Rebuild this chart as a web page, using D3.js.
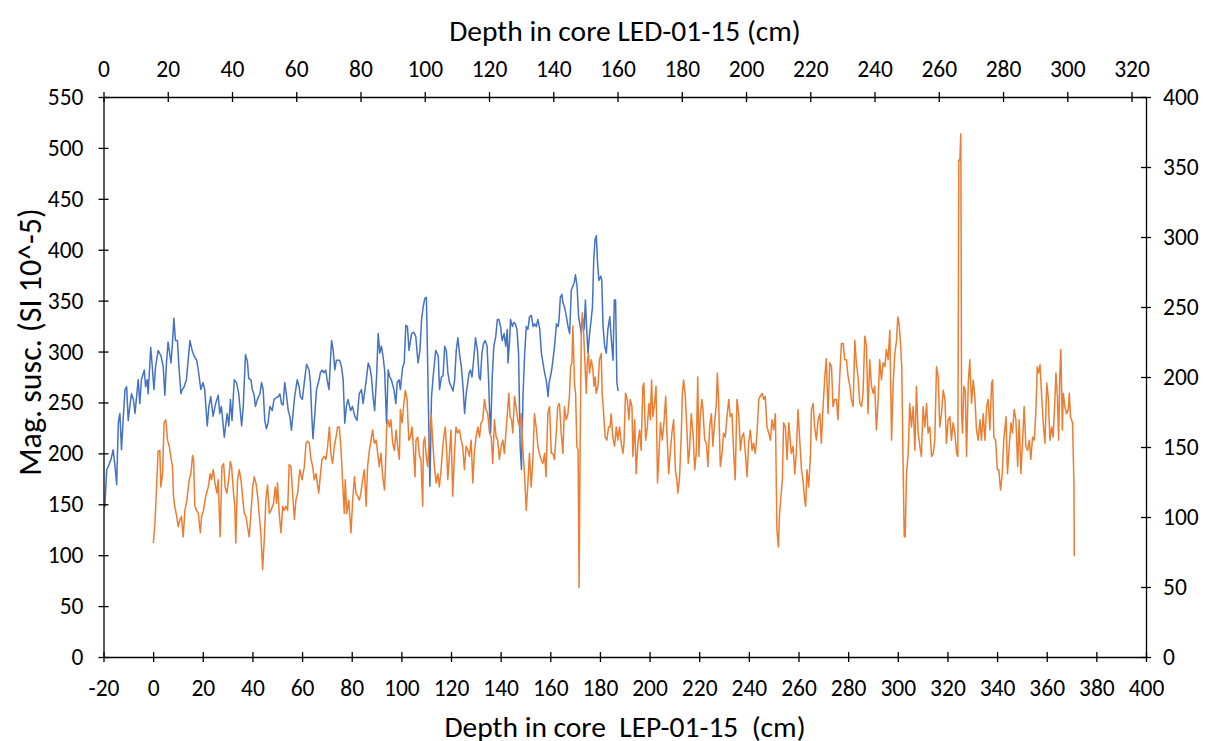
<!DOCTYPE html>
<html>
<head>
<meta charset="utf-8">
<script src="https://cdnjs.cloudflare.com/ajax/libs/d3/7.8.5/d3.min.js"></script>
<style>
  body { margin: 0; background: #fff; }
  text { font-family: Carlito, Calibri, Lato, sans-serif; fill: #000; }
</style>
</head>
<body>
<div id="chart"></div>
<script>
// core LED-01-15: [depth cm (top axis), mag. susc. (right axis)]
var ledCore = [
  [0.4,107],[1.0,134],[1.5,136],[2.3,141],[3.0,148],[3.6,136],[4.1,123],[4.6,167],[5.1,174],[5.6,148],
  [6.1,169],[6.7,191],[7.2,193],[7.7,169],[8.2,179],[8.7,188],[9.3,184],[9.8,174],[10.3,186],[10.8,198],
  [11.3,181],[11.8,198],[12.7,205],[13.1,193],[13.6,198],[13.9,188],[14.7,221],[15.2,207],[15.7,191],[16.2,207],
  [17.0,219],[17.9,215],[18.6,207],[19.1,187],[19.6,210],[20.1,225],[21.0,210],[21.4,222],[21.9,242],[22.4,226],
  [23.0,226],[23.5,207],[24.1,188],[24.5,191],[25.1,193],[25.8,198],[26.9,226],[27.6,219],[28.2,215],[29.0,212],
  [29.5,205],[30.3,191],[31.0,196],[31.5,191],[32.3,165],[32.8,179],[33.4,186],[34.1,172],[34.9,181],[35.7,187],
  [36.2,174],[36.7,179],[37.6,157],[38.0,165],[38.5,174],[39.0,165],[39.5,184],[40.0,169],[40.7,198],[41.4,196],
  [42.1,188],[43.0,165],[43.5,179],[44.2,216],[44.8,211],[45.2,199],[45.9,198],[46.3,191],[46.9,187],[47.3,179],
  [47.9,184],[48.7,188],[49.2,196],[49.7,191],[50.2,169],[50.7,163],[51.2,167],[51.8,179],[52.5,176],[53.1,184],
  [53.6,185],[54.4,186],[54.9,188],[55.4,181],[55.9,180],[56.4,196],[56.9,188],[57.5,176],[58.0,172],[58.5,162],
  [59.0,174],[59.5,186],[60.3,198],[60.9,193],[61.3,186],[61.9,184],[62.6,198],[63.2,209],[64.0,205],[64.4,196],
  [64.8,174],[65.2,156],[65.8,174],[66.3,191],[67.1,198],[67.5,203],[68.1,205],[68.6,203],[69.2,205],[69.6,198],
  [70.2,191],[70.6,210],[71.0,226],[71.5,219],[72.0,205],[72.5,212],[73.5,212],[74.1,207],[74.6,198],[75.1,167],
  [75.6,179],[76.1,184],[76.9,176],[77.5,179],[78.2,172],[78.9,169],[79.6,188],[80.3,191],[80.8,181],[81.8,198],
  [82.4,210],[82.9,207],[83.4,200],[83.9,186],[84.4,176],[85.0,200],[85.5,231],[86.0,217],[86.5,222],[87.0,215],
  [87.5,205],[88.1,167],[88.6,205],[89.1,200],[89.6,198],[90.4,191],[91.0,181],[91.4,196],[92.0,198],[92.4,191],
  [93.1,207],[93.6,210],[94.1,237],[94.6,236],[95.1,219],[95.9,231],[96.6,232],[97.2,229],[97.9,210],[98.5,219],
  [99.0,241],[99.5,250],[100.0,256],[100.5,257],[100.8,222],[101.4,146],[101.6,122],[102.1,186],[102.6,200],[103.4,219],
  [104.2,215],[104.6,191],[105.2,200],[105.7,201],[106.2,222],[106.7,219],[107.2,203],[107.7,196],[108.3,193],[108.8,190],
  [109.3,198],[109.8,219],[110.3,228],[110.9,215],[111.4,207],[111.9,193],[112.4,174],[112.9,188],[113.8,203],[114.2,205],
  [114.7,200],[115.2,212],[115.8,228],[116.4,219],[116.9,200],[117.3,198],[117.8,217],[118.3,224],[118.8,226],[119.4,222],
  [119.9,196],[120.2,174],[120.5,160],[121.0,200],[121.5,222],[122.1,229],[122.6,241],[123.1,241],[123.6,236],[124.1,226],
  [124.7,231],[125.2,222],[125.7,234],[125.9,210],[126.4,226],[126.7,241],[127.3,236],[127.7,239],[128.2,238],[128.7,234],
  [129.2,217],[129.7,150],[130.1,134],[130.6,188],[131.1,217],[131.6,236],[132.1,234],[132.6,243],[133.2,244],[133.7,236],
  [134.2,238],[134.7,236],[135.2,241],[135.8,234],[136.3,217],[136.8,210],[137.3,203],[137.8,198],[138.4,186],[138.7,196],
  [139.1,200],[139.5,205],[139.9,212],[140.4,222],[141.0,238],[141.5,236],[141.8,241],[142.2,257],[142.7,259],[143.0,253],
  [143.5,250],[144.1,243],[144.6,236],[145.1,231],[145.6,262],[146.1,265],[146.5,267],[146.9,273],[147.4,265],[147.9,243],
  [148.4,236],[148.7,231],[149.3,241],[149.6,234],[150.0,255],[150.4,234],[150.8,217],[151.3,231],[151.8,241],[152.2,250],
  [152.6,284],[153.0,298],[153.4,301],[153.8,281],[154.2,269],[154.8,272],[155.1,269],[155.5,236],[156.0,222],[156.5,217],
  [157.0,234],[157.6,243],[158.1,226],[158.6,212],[159.0,255],[159.4,255],[159.8,196],[160.2,190]
];

// core LEP-01-15: [depth cm (bottom axis), mag. susc. (left axis)]
var lepCore = [
  [0.1,112],[0.8,135],[1.5,174],[2.0,202],[2.7,203],[3.1,167],[3.8,180],[4.4,230],[5.1,233],[5.8,213],
  [6.5,207],[7.1,197],[7.8,187],[8.2,158],[8.7,148],[9.5,138],[10.1,128],[10.8,135],[11.4,138],[12.1,118],
  [12.8,144],[13.6,154],[14.5,174],[15.2,180],[15.9,198],[16.3,194],[16.8,148],[17.5,144],[18.2,141],[19.0,122],
  [19.5,138],[20.3,144],[21.2,158],[22.2,167],[23.0,180],[23.5,174],[24.2,184],[24.9,171],[25.7,161],[26.2,174],
  [27.0,118],[27.7,187],[28.4,190],[29.0,167],[29.7,161],[30.4,174],[31.1,192],[31.6,187],[32.4,161],[32.9,148],
  [33.3,112],[34.0,174],[34.7,184],[35.4,174],[36.0,158],[36.7,141],[37.4,138],[38.0,128],[38.7,118],[39.4,141],
  [40.1,167],[40.7,177],[41.4,171],[42.1,158],[42.7,141],[43.4,122],[44.1,86],[44.8,117],[45.4,154],[46.1,169],
  [46.8,141],[47.5,144],[48.5,151],[49.2,167],[49.7,151],[50.1,171],[50.8,141],[51.5,122],[52.2,148],[52.8,144],
  [53.5,148],[54.2,144],[54.8,189],[55.5,187],[56.2,161],[56.9,135],[57.5,154],[58.2,161],[59.1,184],[60.0,174],
  [60.9,187],[61.6,210],[62.2,212],[62.9,210],[63.6,194],[64.3,187],[64.9,174],[65.6,180],[66.7,161],[67.2,174],
  [68.0,194],[69.0,197],[69.6,194],[70.3,207],[71.0,226],[71.6,200],[72.3,190],[73.0,207],[73.7,216],[74.3,226],
  [75.0,226],[75.7,203],[76.3,174],[77.0,141],[77.4,174],[78.0,141],[78.8,154],[79.7,122],[80.4,154],[81.1,177],
  [81.7,161],[82.4,158],[83.1,154],[83.7,161],[84.4,174],[85.1,184],[85.8,148],[86.4,187],[87.1,203],[87.8,213],
  [88.4,223],[89.1,210],[89.8,213],[90.5,200],[91.1,187],[91.8,200],[92.5,177],[93.2,164],[93.6,187],[94.1,226],
  [94.6,233],[95.2,226],[95.8,233],[96.5,210],[97.2,203],[97.9,223],[98.5,207],[99.2,194],[99.6,243],[100.3,230],
  [100.9,246],[101.6,262],[102.3,253],[103.0,213],[103.6,216],[104.3,226],[104.8,207],[105.5,177],[105.9,213],[106.6,216],
  [107.3,197],[107.9,194],[108.6,148],[108.9,210],[109.4,216],[110.0,197],[110.6,187],[111.3,216],[112.0,239],[112.6,213],
  [113.3,187],[114.0,171],[114.7,180],[115.3,167],[116.0,184],[116.7,207],[117.3,220],[117.7,226],[118.3,200],[118.7,174],
  [119.4,200],[120.0,223],[120.7,158],[121.4,200],[122.0,226],[122.7,220],[123.4,223],[124.1,213],[124.7,207],[125.4,184],
  [126.1,207],[126.8,203],[127.4,197],[128.1,213],[128.8,171],[129.4,200],[130.1,216],[130.8,226],[131.5,216],[132.1,230],
  [132.8,233],[133.5,253],[134.1,243],[134.8,239],[135.5,220],[136.2,216],[136.8,190],[137.5,233],[138.2,216],[138.8,213],
  [139.5,194],[140.2,207],[140.9,213],[141.5,200],[142.2,223],[142.9,246],[143.3,259],[143.8,236],[144.4,233],[144.9,220],
  [145.6,256],[146.2,246],[146.9,233],[147.6,226],[148.3,239],[148.9,207],[149.6,180],[150.3,144],[150.9,167],[151.6,200],
  [152.3,167],[153.0,194],[153.6,239],[154.3,226],[155.0,207],[155.6,200],[156.3,194],[157.0,190],[157.7,200],[158.3,177],
  [159.0,239],[159.7,246],[160.4,200],[161.0,200],[161.7,194],[162.4,220],[163.0,246],[163.7,249],[164.4,220],[165.1,200],
  [165.7,246],[166.4,233],[167.1,239],[167.7,256],[168.2,285],[168.7,289],[169.1,325],[169.8,266],[170.2,259],[170.7,207],
  [171.2,203],[171.6,68],[172.0,200],[172.5,321],[172.9,338],[173.4,321],[173.9,292],[174.5,259],[174.9,289],[175.4,298],
  [175.8,279],[176.5,292],[177.2,282],[177.6,266],[178.1,275],[178.5,259],[179.2,266],[179.8,292],[180.5,298],[180.9,259],
  [181.5,239],[182.1,216],[182.8,213],[183.5,226],[184.1,226],[184.5,239],[185.2,216],[185.9,207],[186.6,226],[187.2,213],
  [187.9,226],[188.6,210],[189.3,200],[189.7,210],[190.3,259],[191.0,253],[191.7,233],[192.2,253],[192.9,246],[193.3,197],
  [194.0,233],[194.6,180],[195.3,210],[196.0,223],[196.6,203],[197.3,266],[197.7,269],[198.4,213],[199.1,226],[199.7,249],
  [200.3,233],[200.8,272],[201.3,236],[202.0,249],[202.6,266],[203.2,171],[203.8,200],[204.4,230],[205.1,213],[205.8,230],
  [206.5,256],[207.0,220],[207.7,180],[208.3,200],[209.0,220],[209.7,233],[210.4,184],[211.0,174],[211.4,161],[212.1,177],
  [212.8,220],[213.2,259],[213.7,272],[214.4,256],[215.1,220],[215.6,190],[216.1,203],[216.8,239],[217.5,220],[218.2,184],
  [218.8,200],[219.4,275],[219.9,197],[220.4,236],[221.1,253],[221.5,243],[222.2,213],[222.9,210],[223.5,187],[224.2,226],
  [224.9,239],[225.5,207],[226.2,230],[226.9,249],[227.3,279],[227.8,253],[228.5,187],[229.2,200],[229.8,220],[230.5,216],
  [231.2,236],[231.9,253],[232.5,236],[233.2,239],[233.9,200],[234.5,174],[235.2,253],[235.9,239],[236.6,203],[237.2,216],
  [237.9,220],[238.6,200],[239.3,177],[239.9,210],[240.6,223],[241.3,203],[241.9,210],[242.6,200],[243.3,220],[244.0,253],
  [244.6,256],[245.3,259],[246.0,253],[246.6,256],[247.3,226],[248.0,220],[248.7,213],[249.3,233],[250.0,223],[250.7,239],
  [251.3,125],[251.9,108],[252.3,138],[252.8,154],[253.5,174],[254.0,230],[254.7,226],[255.4,194],[256.1,230],[257.1,200],
  [257.8,207],[258.5,180],[259.1,200],[259.8,243],[260.5,213],[261.2,184],[261.8,174],[262.5,154],[262.9,148],[263.4,184],
  [264.1,167],[264.8,197],[265.2,243],[265.9,249],[266.5,226],[267.2,213],[267.9,233],[268.6,239],[269.2,210],[269.9,246],
  [270.6,275],[271.2,293],[271.9,239],[272.6,289],[273.3,285],[273.9,246],[274.6,253],[275.3,253],[275.9,233],[276.6,275],
  [277.3,308],[278.0,308],[278.6,292],[279.3,292],[280.0,275],[280.7,266],[281.3,253],[282.0,246],[282.7,311],[283.3,289],
  [284.0,275],[284.7,249],[285.4,246],[286.0,259],[286.7,315],[287.4,305],[288.0,239],[288.7,292],[289.4,266],[290.1,259],
  [290.7,266],[291.4,223],[292.1,253],[292.7,292],[293.4,272],[294.1,289],[294.8,285],[295.4,302],[296.1,292],[296.8,321],
  [297.5,213],[298.1,266],[298.8,298],[299.5,311],[300.0,334],[300.5,328],[301.1,308],[301.6,285],[302.2,180],[302.6,118],
  [303.0,118],[303.5,180],[304.2,200],[304.8,249],[305.5,226],[306.2,246],[306.9,203],[307.5,266],[308.2,220],[308.9,207],
  [309.5,197],[310.2,246],[310.9,226],[311.6,249],[312.2,220],[312.9,226],[313.6,197],[314.3,200],[314.9,213],[315.6,285],
  [316.3,275],[316.9,226],[317.6,239],[318.3,262],[319.0,253],[319.6,210],[320.3,233],[321.0,236],[321.6,213],[322.3,230],
  [323.0,220],[323.7,200],[324.2,197],[324.6,488],[325.0,488],[325.4,514],[325.7,239],[326.1,220],[326.6,266],[327.2,262],
  [327.7,197],[328.4,269],[329.0,292],[329.7,249],[330.4,272],[331.1,253],[331.7,223],[332.4,213],[333.1,233],[333.7,213],
  [334.4,239],[335.1,213],[335.8,246],[336.4,253],[337.1,223],[337.8,269],[338.2,272],[338.7,216],[339.4,213],[340.1,184],
  [340.7,184],[341.4,164],[342.1,180],[342.7,213],[343.6,236],[344.2,180],[344.9,207],[345.6,230],[346.2,220],[346.9,243],
  [347.6,233],[348.3,187],[348.9,233],[349.6,180],[350.3,213],[350.9,246],[351.6,207],[352.3,203],[353.0,213],[353.6,194],
  [354.3,216],[355.0,213],[355.6,239],[356.2,285],[356.7,279],[357.3,287],[357.9,259],[358.6,230],[359.3,210],[360.0,269],
  [360.6,256],[361.3,213],[362.0,226],[362.6,216],[363.3,253],[363.7,279],[364.3,256],[364.8,213],[365.3,279],[365.7,302],
  [366.3,223],[366.7,259],[367.3,246],[368.0,239],[368.7,243],[369.1,259],[369.6,236],[370.0,233],[370.4,230],[371.0,167],
  [371.1,99]
];

var bottomTicks = d3.range(-20, 401, 20);
var topTicks = d3.range(0, 321, 20);
var leftTicks = d3.range(0, 551, 50);
var rightTicks = d3.range(0, 401, 50);

var width = 1210, height = 741;
var plotLeft = 103.5, plotRight = 1146, plotTop = 97, plotBottom = 657;

var svg = d3.select("#chart").append("svg")
    .attr("width", width)
    .attr("height", height);

svg.append("rect").attr("width", width).attr("height", height).attr("fill", "#fff");

// scales
var xBottom = d3.scaleLinear().domain([-20, 400]).range([plotLeft, plotRight]);
var xTop = d3.scaleLinear().domain([0, 324.5]).range([plotLeft, plotRight]);
var yLeft = d3.scaleLinear().domain([0, 550]).range([plotBottom, plotTop]);
var yRight = d3.scaleLinear().domain([0, 400]).range([plotBottom, plotTop]);

// lines
var ledLine = d3.line().x(d => xTop(d[0])).y(d => yRight(d[1]));
var lepLine = d3.line().x(d => xBottom(d[0])).y(d => yLeft(d[1]));

svg.append("path").datum(ledCore)
    .attr("d", ledLine)
    .attr("fill", "none")
    .attr("stroke", "#4472C4")
    .attr("stroke-width", 1.5)
    .attr("stroke-linejoin", "round");

svg.append("path").datum(lepCore)
    .attr("d", lepLine)
    .attr("fill", "none")
    .attr("stroke", "#ED7D31")
    .attr("stroke-width", 1.5)
    .attr("stroke-linejoin", "round");

// axes (cross tick marks like the original)
var plain = d => String(d);

function styleAxis(g, horizontal) {
    g.attr("font-family", null).attr("font-size", null);
    g.select(".domain").attr("stroke", "#000").attr("stroke-width", 1.3);
    g.selectAll(".tick line").attr("stroke", "#000").attr("stroke-width", 1.3);
    if (horizontal) g.selectAll(".tick line").attr("y1", -5).attr("y2", 5);
    else g.selectAll(".tick line").attr("x1", -5).attr("x2", 5);
    g.selectAll(".tick text").attr("font-size", 23.5).attr("fill", "#000");
}

svg.append("g")
    .attr("transform", "translate(0," + plotBottom + ")")
    .call(d3.axisBottom(xBottom).tickValues(bottomTicks).tickFormat(plain).tickSize(0).tickSizeOuter(0).tickPadding(22))
    .call(g => styleAxis(g, true));

svg.append("g")
    .attr("transform", "translate(0," + plotTop + ")")
    .call(d3.axisTop(xTop).tickValues(topTicks).tickFormat(plain).tickSize(0).tickSizeOuter(0).tickPadding(20.5))
    .call(g => styleAxis(g, true));

svg.append("g")
    .attr("transform", "translate(" + plotLeft + ",0)")
    .call(d3.axisLeft(yLeft).tickValues(leftTicks).tickFormat(plain).tickSize(0).tickSizeOuter(0).tickPadding(20))
    .call(g => styleAxis(g, false));

svg.append("g")
    .attr("transform", "translate(" + plotRight + ",0)")
    .call(d3.axisRight(yRight).tickValues(rightTicks).tickFormat(plain).tickSize(0).tickSizeOuter(0).tickPadding(17))
    .call(g => styleAxis(g, false));

// axis titles
svg.append("text")
    .attr("x", 625).attr("y", 41)
    .attr("text-anchor", "middle")
    .attr("font-size", 29.5)
    .text("Depth in core LED-01-15 (cm)");

svg.append("text")
    .attr("x", 625).attr("y", 737)
    .attr("text-anchor", "middle")
    .attr("font-size", 29.5)
    .style("white-space", "pre")
    .text("Depth in core  LEP-01-15  (cm)");

svg.append("text")
    .attr("transform", "translate(41,342) rotate(-90)")
    .attr("text-anchor", "middle")
    .attr("font-size", 32)
    .text("Mag. susc. (SI 10^-5)");
</script>
</body>
</html>
